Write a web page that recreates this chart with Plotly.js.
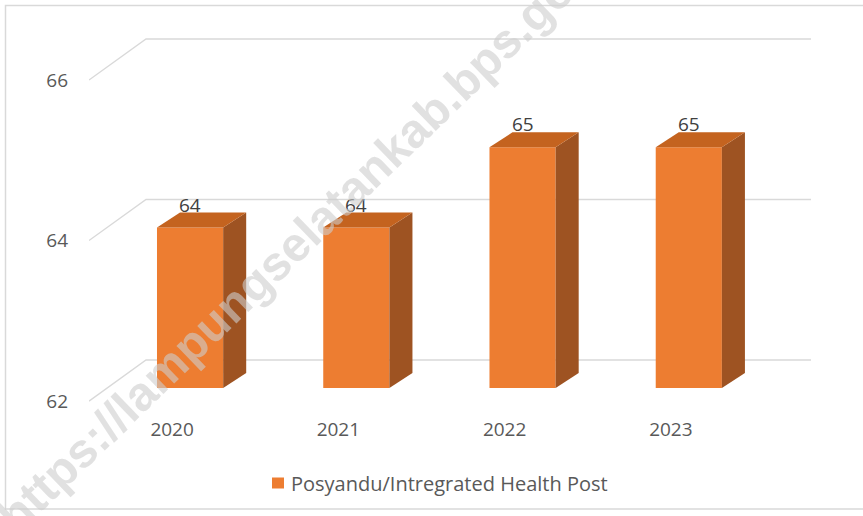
<!DOCTYPE html>
<html>
<head>
<meta charset="utf-8">
<script src="https://cdn.plot.ly/plotly-3.0.1.min.js"></script>
<style>html,body{margin:0;padding:0;background:#fff;}#chart{width:863px;height:516px;}</style>
</head>
<body>
<div id="chart"></div>
<script>
// ---- data ----
const years = ['2020', '2021', '2022', '2023'];
const values = [64, 64, 65, 65];
const yTickVals = [62, 64, 66];
const yTickText = ['62', '64', '66'];
const seriesName = 'Posyandu/Intregrated Health Post';
const watermarkText = 'https://lampungselatankab.bps.go.id';

// ---- 3D look geometry (in axis units) ----
const FLOOR = 62;
const DEPTH_X = 0.343, DEPTH_Y = 0.511;   // back wall offset
const BAR_OFF_X = 0.108, BAR_OFF_Y = 0.162; // bar front plane offset
const BAR_W = 0.398;
const SIDE_DX = 0.1386, SIDE_DY = 0.187;

const FRONT = '#ED7D31', TOP = '#C4631F', SIDE = '#9E5322';
const GRID = '#d9d9d9';
const FONT = '"Open Sans", Lato, "Liberation Sans", Arial, sans-serif';

const W = 863, H = 516, ML = 89, MR = 52, MT = 20, MB = 96;
const plotW = W - ML - MR, plotH = H - MT - MB;
const px2x = p => (p - ML) / plotW;
const py2y = p => (H - MB - p) / plotH;

const traces = [];
const xIdx = years.map((_, i) => i);

// gridlines (front-left diagonal + back wall), drawn below the bars
const gridShapes = yTickVals.map(v => ({
  type: 'path', xref: 'x', yref: 'y', layer: 'below',
  path: `M ${-0.5},${v} L ${-0.5 + DEPTH_X},${v + DEPTH_Y} L ${3.5 + DEPTH_X},${v + DEPTH_Y}`,
  line: {color: GRID, width: 1.4}
}));

// front faces
traces.push({
  type: 'bar', name: seriesName, showlegend: false,
  x: xIdx.map(i => i + BAR_OFF_X),
  y: values.map(v => v - FLOOR),
  base: FLOOR + BAR_OFF_Y,
  width: BAR_W,
  marker: {color: FRONT, line: {width: 0}},
  hoverinfo: 'skip'
});

// side and top faces
values.forEach((v, i) => {
  const xl = i + BAR_OFF_X - BAR_W / 2, xr = i + BAR_OFF_X + BAR_W / 2;
  const yb = FLOOR + BAR_OFF_Y, yt = v + BAR_OFF_Y;
  traces.push({
    type: 'scatter', mode: 'lines', fill: 'toself', fillcolor: SIDE,
    line: {width: 0, color: SIDE}, hoverinfo: 'skip', showlegend: false,
    x: [xr, xr + SIDE_DX, xr + SIDE_DX, xr, xr],
    y: [yb, yb + SIDE_DY, yt + SIDE_DY, yt, yb]
  });
  traces.push({
    type: 'scatter', mode: 'lines', fill: 'toself', fillcolor: TOP,
    line: {width: 0, color: TOP}, hoverinfo: 'skip', showlegend: false,
    x: [xl, xr, xr + SIDE_DX, xl + SIDE_DX, xl],
    y: [yt, yt, yt + SIDE_DY, yt + SIDE_DY, yt]
  });
});

const annotations = values.map((v, i) => ({
  x: i + BAR_OFF_X, y: v + BAR_OFF_Y + SIDE_DY,
  xref: 'x', yref: 'y', text: String(v), showarrow: false,
  xanchor: 'center', yanchor: 'bottom', yshift: -7,
  font: {family: FONT, size: 19, color: '#404040'}
}));

// legend (manual, to match the tight swatch/text spacing)
annotations.push({
  xref: 'paper', yref: 'paper', x: px2x(289), y: py2y(483),
  xanchor: 'left', yanchor: 'middle', showarrow: false,
  text: seriesName, font: {family: FONT, size: 20, color: '#595959'}
});

// watermark
annotations.push({
  xref: 'paper', yref: 'paper', x: px2x(306), y: py2y(234),
  xanchor: 'center', yanchor: 'middle', showarrow: false,
  text: watermarkText, textangle: -44,
  font: {family: '"Liberation Sans", Arial, sans-serif', size: 48, weight: 'bold', color: 'rgba(205,205,205,0.6)'}
});

const layout = {
  width: W, height: H,
  margin: {l: ML, r: MR, t: MT, b: MB, pad: 0},
  paper_bgcolor: '#fff', plot_bgcolor: 'rgba(0,0,0,0)',
  showlegend: false,
  xaxis: {
    range: [-0.5, 3.5 + DEPTH_X], tickvals: xIdx, ticktext: years,
    showgrid: false, zeroline: false, showline: false, ticks: '', fixedrange: true,
    ticklabelstandoff: -4,
    tickfont: {family: FONT, size: 19, color: '#595959'}
  },
  yaxis: {
    range: [FLOOR - 0.236, 66.748], tickvals: yTickVals, ticktext: yTickText,
    showgrid: false, zeroline: false, showline: false, ticks: '', fixedrange: true,
    ticklabelstandoff: 20,
    tickfont: {family: FONT, size: 19, color: '#595959'}
  },
  annotations: annotations,
  shapes: gridShapes.concat([
    {
      type: 'rect', xref: 'paper', yref: 'paper', layer: 'below',
      x0: px2x(272), x1: px2x(284), y0: py2y(488.5), y1: py2y(477.5),
      line: {width: 0}, fillcolor: FRONT
    },
    {
      type: 'rect', xref: 'paper', yref: 'paper', layer: 'below',
      x0: px2x(5.5), x1: px2x(880), y0: py2y(509), y1: py2y(5.5),
      line: {color: '#d9d9d9', width: 1.5}, fillcolor: 'rgba(0,0,0,0)'
    }
  ])
};

Plotly.newPlot('chart', traces, layout, {displayModeBar: false, staticPlot: true});
</script>
</body>
</html>
